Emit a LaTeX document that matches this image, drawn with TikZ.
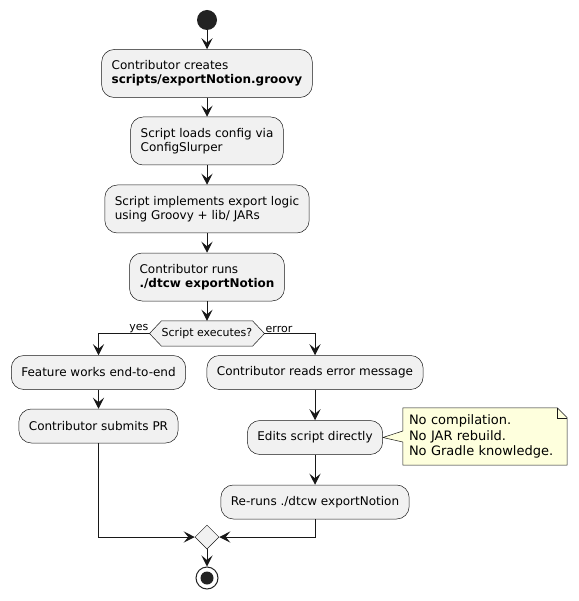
\documentclass[tikz,border=0pt]{standalone}
\usepackage{fontspec}
\setmainfont{DejaVu Sans}
\usetikzlibrary{arrows.meta,shapes.geometric,calc,backgrounds}
\definecolor{boxfill}{HTML}{F1F1F1}
\definecolor{ink}{HTML}{181818}
\definecolor{notefill}{HTML}{FEFFDD}
\definecolor{dot}{HTML}{222222}
\begin{document}
\begin{tikzpicture}[x=1pt,y=-1pt,
  act/.style={draw=ink, line width=0.5pt, fill=boxfill, rounded corners=12.5pt, align=left, inner xsep=10pt, inner ysep=0pt, font=\fontsize{12}{14}\selectfont},
  one/.style={act, minimum height=34pt},
  two/.style={act, minimum height=48pt},
  flow/.style={draw=ink, line width=1pt, -{Stealth[length=11pt,width=11pt,inset=4.5pt]}},
  lbl/.style={font=\fontsize{11}{13}\selectfont, inner sep=1pt},
  shapeline/.style={draw=ink, line width=0.5pt},
]
\begin{scope}[on background layer]
\fill[white] (0,0) rectangle (578,601);
\end{scope}
\useasboundingbox (0,0) rectangle (578,601);

\node[circle, fill=dot, minimum size=20pt, inner sep=0pt] (start) at (207,20) {};
\node[two] (b1) at (207,73.5) {Contributor creates\\\textbf{scripts/exportNotion.groovy}};
\node[two] (b2) at (207,141) {Script loads config via\\ConfigSlurper};
\node[two] (b3) at (207,209) {Script implements export logic\\using Groovy + lib/ JARs};
\node[two] (b4) at (207,277) {Contributor runs\\\textbf{./dtcw exportNotion}};
\node[minimum width=90pt, minimum height=25pt, inner sep=0pt, font=\fontsize{11}{13}\selectfont] (dec) at (207,333.5) {Script executes?};
\coordinate (decL) at ($(dec.west)+(-12,0)$);
\coordinate (decR) at ($(dec.east)+(12,0)$);
\begin{scope}[on background layer]
\draw[shapeline, fill=boxfill] (dec.north west) -- (dec.north east) -- (decR) -- (dec.south east) -- (dec.south west) -- (decL) -- cycle;
\end{scope}

\node[one] (b5) at (98.5,372.5) {Feature works end-to-end};
\node[one] (b6) at (98.5,426) {Contributor submits PR};
\node[one] (b7) at (315,372.5) {Contributor reads error message};
\node[one] (b8) at (315,437.5) {Edits script directly};
\node[one] (b9) at (315,502) {Re-runs ./dtcw exportNotion};
\node[diamond, shapeline, fill=boxfill, minimum width=24pt, minimum height=24pt, inner sep=0pt] (m) at (207,537) {};
\node[circle, draw=dot, line width=1pt, fill=white, minimum size=22pt, inner sep=0pt] (end) at (207,578) {};
\node[circle, fill=dot, minimum size=13pt, inner sep=0pt] (endin) at (end.center) {};

\node[text width=152pt, align=left, inner xsep=6pt, inner ysep=0pt, minimum height=57pt, font=\fontsize{13}{15.5}\selectfont] (note) at (485,436.5) {No compilation.\\No JAR rebuild.\\No Gradle knowledge.};
\begin{scope}[on background layer]
\draw[shapeline, fill=notefill] (note.north west) -- ($(note.north east)+(-10,0)$) -- ($(note.north east)+(0,10)$) -- (note.south east) -- (note.south west) -- ($(note.west)+(0,5.5)$) -- (b8.east) -- ($(note.west)+(0,-5.5)$) -- cycle;
\draw[shapeline] ($(note.north east)+(-10,0)$) -- ($(note.north east)+(-10,10)$) -- ($(note.north east)+(0,10)$);
\end{scope}

\draw[flow] (start) -- (b1);
\draw[flow] (b1) -- (b2);
\draw[flow] (b2) -- (b3);
\draw[flow] (b3) -- (b4);
\draw[flow] (b4) -- (dec);
\draw[flow] (decL) -| (b5.north);
\node[lbl, anchor=south east] (lyes) at (decL) {yes};
\draw[flow] (decR) -| (b7.north);
\node[lbl, anchor=south west] (lerr) at (decR) {error};
\draw[flow] (b5) -- (b6);
\draw[flow] (b7) -- (b8);
\draw[flow] (b8) -- (b9);
\draw[flow] (b6.south) |- (m.west);
\draw[flow] (b9.south) |- (m.east);
\draw[flow] (m) -- (end);
\end{tikzpicture}
\end{document}
